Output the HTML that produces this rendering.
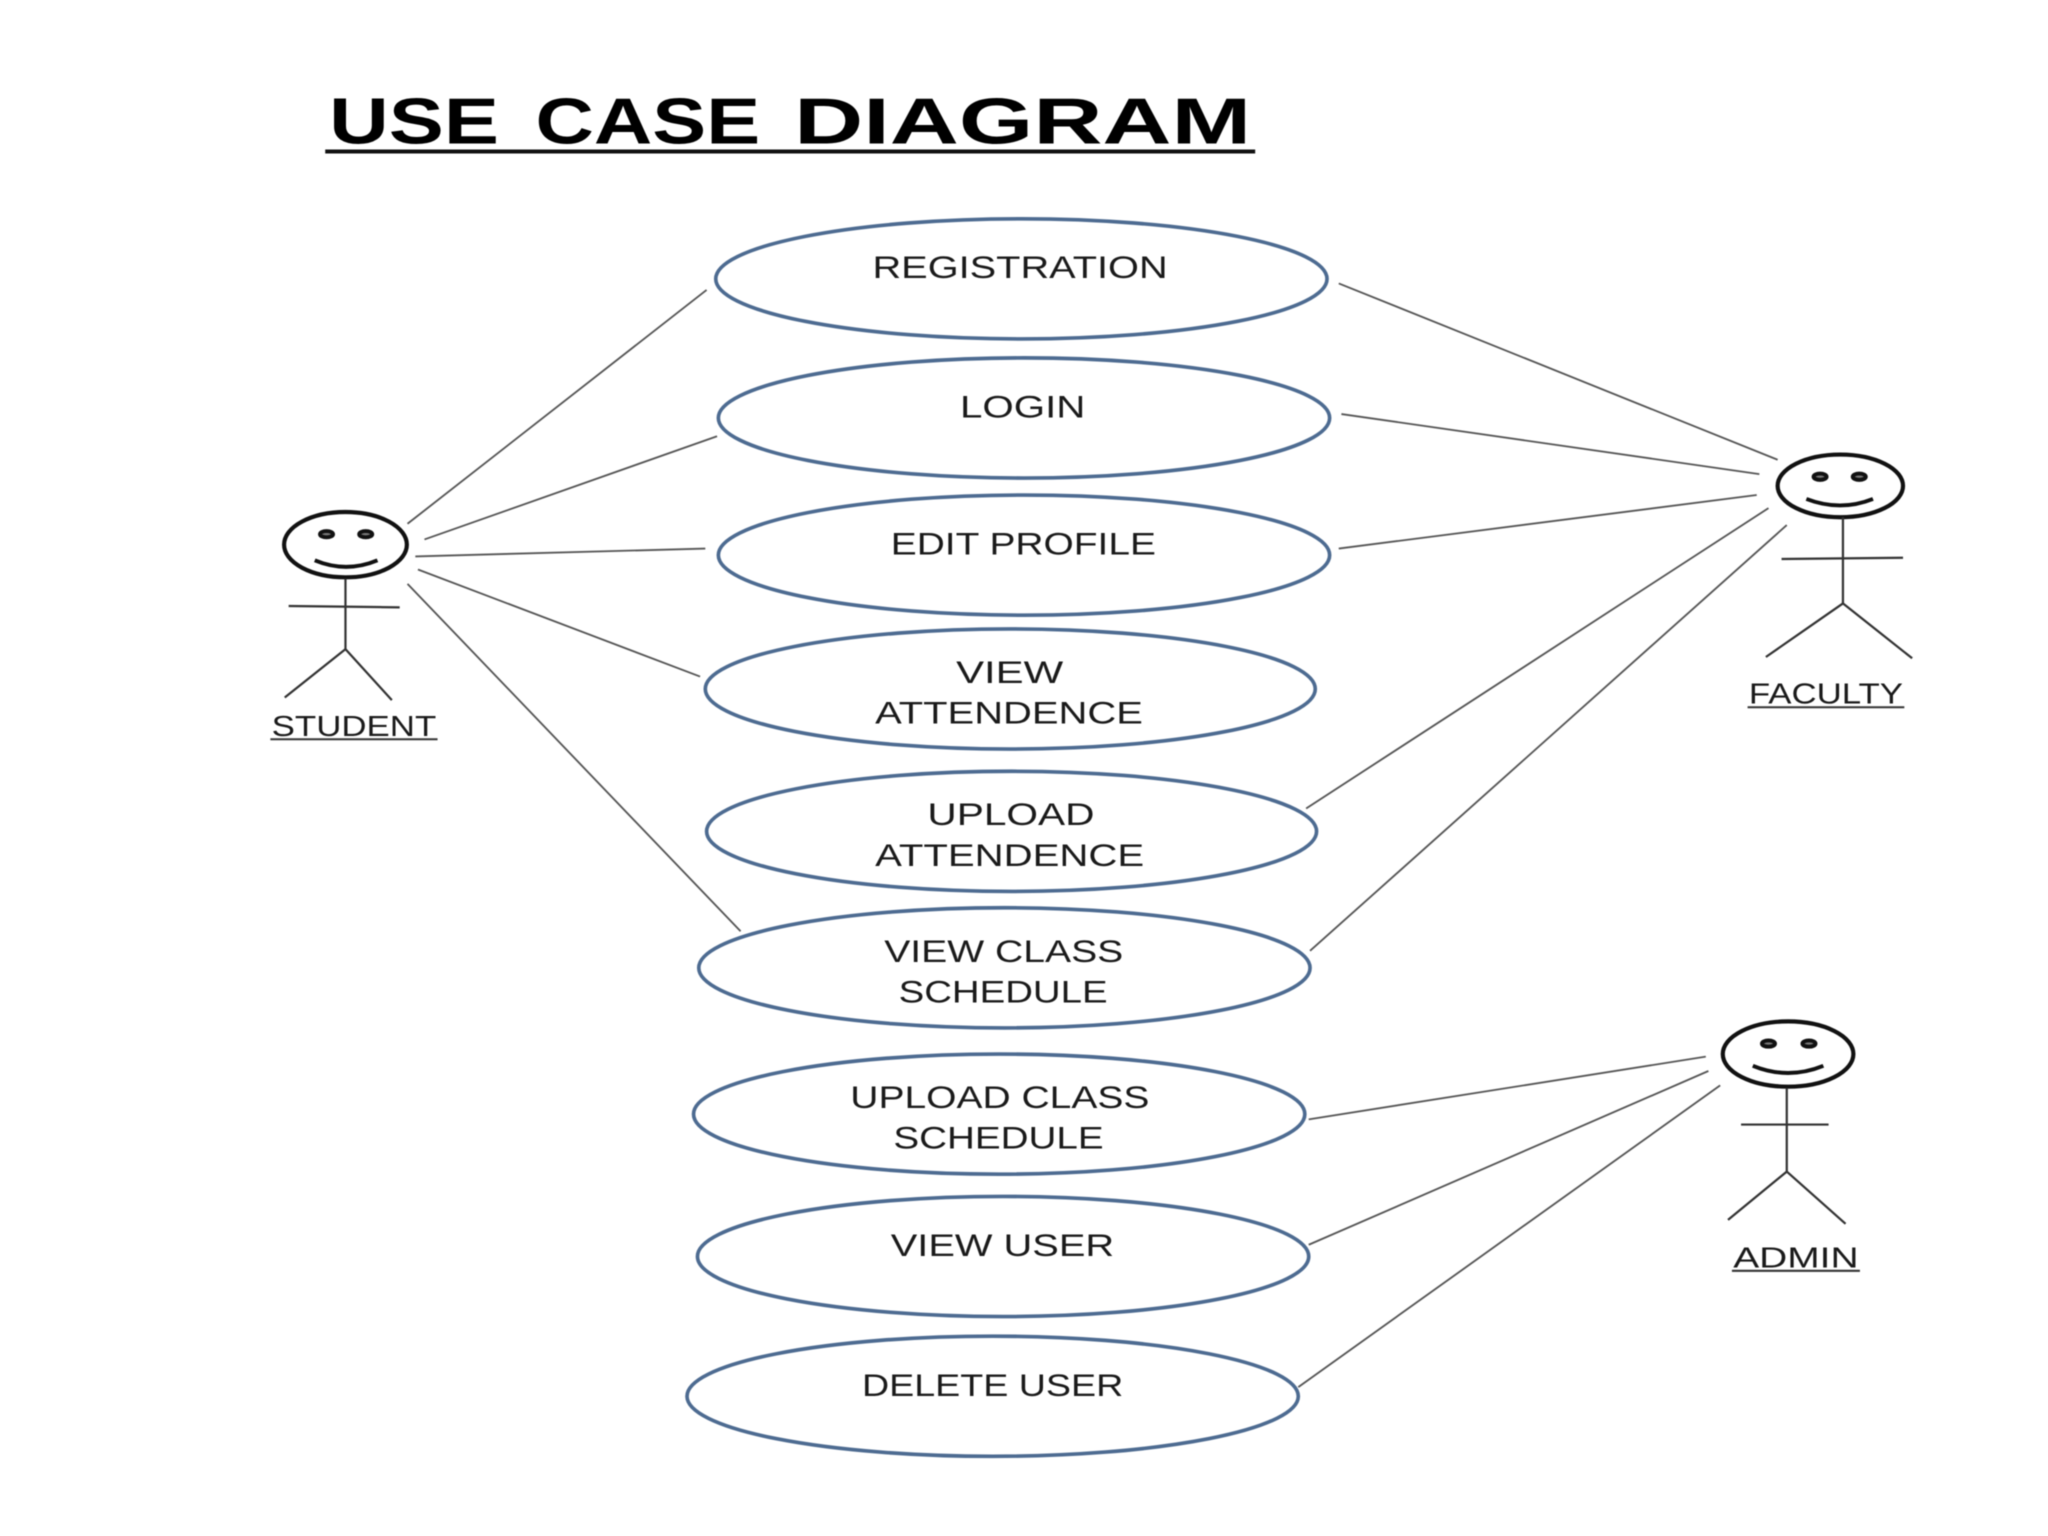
<!DOCTYPE html>
<html>
<head>
<meta charset="utf-8">
<style>
html,body{margin:0;padding:0;background:#fff;width:2048px;height:1536px;overflow:hidden}
svg{display:block;filter:blur(.6px)}
text{font-family:"Liberation Sans",sans-serif;fill:#1a1a1a;font-size:24px}
.t{font-size:50px;font-weight:bold;fill:#000}
.e{fill:#fff;stroke:#4d6b91;stroke-width:2.8}
.c line{stroke:#555;stroke-width:1.4}
.h{fill:none;stroke:#111;stroke-width:3.2}
.s{fill:none;stroke:#333;stroke-width:1.7}
.eye{fill:#777;stroke:#111;stroke-width:3}
.smile{fill:none;stroke:#111;stroke-width:3}
.u{stroke:#333;stroke-width:1.6}
</style>
</head>
<body>
<svg width="2048" height="1536" viewBox="0 0 1568 1176" xmlns="http://www.w3.org/2000/svg">
<rect width="1568" height="1176" fill="#fff"/>
<text class="t" x="252" y="110" textLength="130" lengthAdjust="spacingAndGlyphs">USE</text>
<text class="t" x="410" y="110" textLength="172" lengthAdjust="spacingAndGlyphs">CASE</text>
<text class="t" x="608" y="110" textLength="350" lengthAdjust="spacingAndGlyphs">DIAGRAM</text>
<line x1="249" y1="116" x2="961" y2="116" stroke="#111" stroke-width="3"/>

<g class="c">
<line x1="312" y1="401" x2="541" y2="222"/>
<line x1="325" y1="413" x2="549" y2="334"/>
<line x1="318" y1="426" x2="540" y2="420"/>
<line x1="320" y1="436" x2="536" y2="518"/>
<line x1="312" y1="447" x2="567" y2="713"/>
<line x1="1025" y1="217" x2="1361" y2="352"/>
<line x1="1027" y1="317" x2="1347" y2="363"/>
<line x1="1025" y1="420" x2="1345" y2="379"/>
<line x1="1000" y1="619" x2="1354" y2="389"/>
<line x1="1003" y1="728" x2="1368" y2="402"/>
<line x1="1002" y1="857" x2="1306" y2="809"/>
<line x1="1002" y1="953" x2="1308" y2="820"/>
<line x1="994" y1="1062" x2="1317" y2="831"/>
</g>

<ellipse class="e" cx="782" cy="213.500" rx="234" ry="46"/>
<ellipse class="e" cx="784" cy="320" rx="234" ry="46"/>
<ellipse class="e" cx="784" cy="425" rx="234" ry="46"/>
<ellipse class="e" cx="773.500" cy="527.500" rx="233.500" ry="46"/>
<ellipse class="e" cx="774.500" cy="636.500" rx="233.500" ry="46"/>
<ellipse class="e" cx="769" cy="741" rx="234" ry="46"/>
<ellipse class="e" cx="765" cy="853" rx="234" ry="46"/>
<ellipse class="e" cx="768" cy="962" rx="234" ry="46"/>
<ellipse class="e" cx="760" cy="1069" rx="234" ry="46"/>

<text x="668" y="213" textLength="226" lengthAdjust="spacingAndGlyphs">REGISTRATION</text>
<text x="735" y="319.500" textLength="96" lengthAdjust="spacingAndGlyphs">LOGIN</text>
<text x="682" y="424.500" textLength="203" lengthAdjust="spacingAndGlyphs">EDIT PROFILE</text>
<text x="732" y="523" textLength="82" lengthAdjust="spacingAndGlyphs">VIEW</text>
<text x="670" y="554" textLength="205" lengthAdjust="spacingAndGlyphs">ATTENDENCE</text>
<text x="710" y="631.500" textLength="128" lengthAdjust="spacingAndGlyphs">UPLOAD</text>
<text x="670" y="663" textLength="206" lengthAdjust="spacingAndGlyphs">ATTENDENCE</text>
<text x="677" y="736.500" textLength="183" lengthAdjust="spacingAndGlyphs">VIEW CLASS</text>
<text x="688" y="767.500" textLength="160" lengthAdjust="spacingAndGlyphs">SCHEDULE</text>
<text x="651" y="848.500" textLength="229" lengthAdjust="spacingAndGlyphs">UPLOAD CLASS</text>
<text x="684" y="879.500" textLength="161" lengthAdjust="spacingAndGlyphs">SCHEDULE</text>
<text x="682" y="961.500" textLength="171" lengthAdjust="spacingAndGlyphs">VIEW USER</text>
<text x="660" y="1069" textLength="200" lengthAdjust="spacingAndGlyphs">DELETE USER</text>

<!-- Student -->
<ellipse class="h" cx="264.500" cy="417" rx="47" ry="25"/>
<ellipse class="eye" cx="250" cy="409" rx="5" ry="2.400"/>
<ellipse class="eye" cx="280" cy="409" rx="5" ry="2.400"/>
<path class="smile" d="M241 429 Q265 439 289 429"/>
<line class="s" x1="264.500" y1="443" x2="264.500" y2="497"/>
<line class="s" x1="221" y1="464" x2="306" y2="465"/>
<path class="s" d="M218 534 L264.500 497 L300 536"/>
<text x="208" y="563.500" textLength="126" lengthAdjust="spacingAndGlyphs" style="font-size:22px">STUDENT</text>
<line class="u" x1="207" y1="566" x2="335" y2="566"/>

<!-- Faculty -->
<ellipse class="h" cx="1409" cy="372" rx="48" ry="24"/>
<ellipse class="eye" cx="1393.500" cy="365" rx="5" ry="2.400"/>
<ellipse class="eye" cx="1423.500" cy="365" rx="5" ry="2.400"/>
<path class="smile" d="M1383 382 Q1409 392 1434 382"/>
<line class="s" x1="1411" y1="396" x2="1411" y2="462"/>
<line class="s" x1="1364" y1="428" x2="1457" y2="427"/>
<path class="s" d="M1352 503 L1411 462 L1464 504"/>
<text x="1339" y="538.500" textLength="118" lengthAdjust="spacingAndGlyphs" style="font-size:22px">FACULTY</text>
<line class="u" x1="1338" y1="541.500" x2="1458" y2="541.500"/>

<!-- Admin -->
<ellipse class="h" cx="1369" cy="807" rx="50" ry="25"/>
<ellipse class="eye" cx="1354" cy="799" rx="5" ry="2.400"/>
<ellipse class="eye" cx="1385" cy="799" rx="5" ry="2.400"/>
<path class="smile" d="M1342 816 Q1369 827 1396 816"/>
<line class="s" x1="1368" y1="833" x2="1368" y2="897"/>
<line class="s" x1="1333" y1="861" x2="1400" y2="861"/>
<path class="s" d="M1323 934 L1368 897 L1413 937"/>
<text x="1327" y="970.500" textLength="96" lengthAdjust="spacingAndGlyphs" style="font-size:22px">ADMIN</text>
<line class="u" x1="1326" y1="973" x2="1424" y2="973"/>
</svg>
</body>
</html>
